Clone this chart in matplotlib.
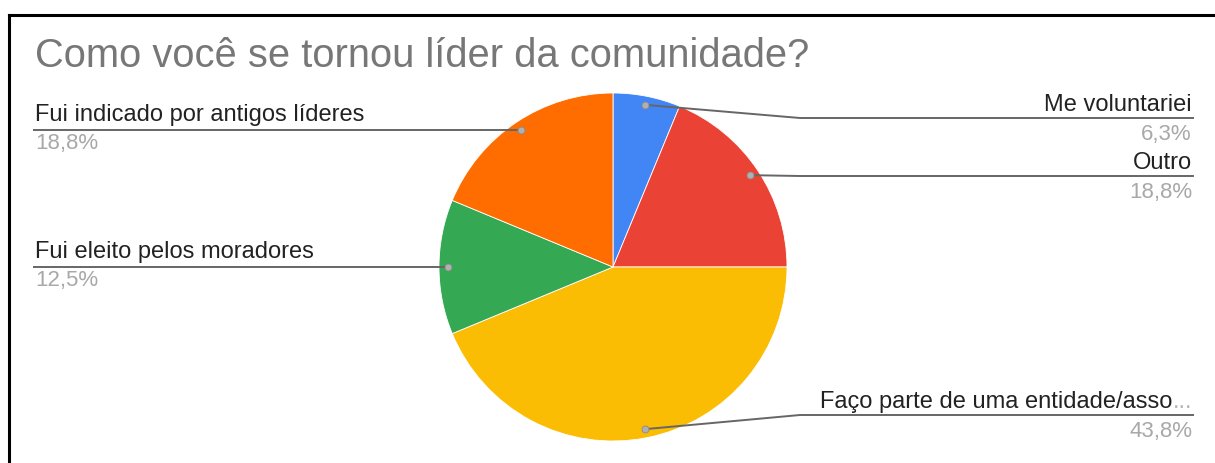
import numpy as np
import matplotlib
matplotlib.use("Agg")
import matplotlib.pyplot as plt

plt.rcParams['font.family'] = ['Liberation Sans', 'DejaVu Sans']

# respostas (16 lideres)
labels = ["Me voluntariei", "Outro", "Faço parte de uma entidade/asso",
          "Fui eleito pelos moradores", "Fui indicado por antigos líderes"]
truncated = [False, False, True, False, False]
shares = [6.25, 18.75, 43.75, 12.5, 18.75]
pct_text = ["6,3%", "18,8%", "43,8%", "12,5%", "18,8%"]
colors = ["#4285F4", "#EA4335", "#FBBC04", "#34A853", "#FF6D01"]
side = ["right", "right", "right", "left", "left"]
# altura da linha-guia dos rotulos da direita (px a partir do topo)
right_line_y = {0: 118, 1: 176, 2: 415}

W, H = 1215, 463
fig = plt.figure(figsize=(W / 100, H / 100), dpi=100)
ax = fig.add_axes([0, 0, 1, 1])

def Y(y):
    return H - y

cx, cy, R = 613, 267, 174

wedges, _ = ax.pie(shares, colors=colors, startangle=90, counterclock=False,
                   center=(cx, Y(cy)), radius=R, frame=True,
                   wedgeprops=dict(edgecolor='white', linewidth=0.6))
ax.set_xlim(0, W)
ax.set_ylim(0, H)
ax.set_aspect('auto')
ax.axis('off')

renderer = fig.canvas.get_renderer()
line_c = '#666666'
for i, w in enumerate(wedges):
    mid = np.deg2rad((w.theta1 + w.theta2) / 2)
    dx = cx + 0.95 * R * np.cos(mid)
    dy = Y(cy) + 0.95 * R * np.sin(mid)
    if side[i] == 'left':
        ly = dy
        ax.plot([33, dx], [ly, ly], color=line_c, lw=1.4, zorder=3, solid_capstyle='butt')
        ax.text(35, ly + 9, labels[i], fontsize=17, color='#222222', ha='left', va='baseline')
        ax.text(35, ly - 19, pct_text[i], fontsize=16, color='#a8a8a8', ha='left', va='baseline')
    else:
        ly = Y(right_line_y[i])
        ax.plot([dx, 800, 1193], [dy, ly, ly], color=line_c, lw=1.4, zorder=3)
        xr = 1192
        if truncated[i]:
            # reticencias mais claras no fim do rotulo cortado
            dots = ax.text(xr, ly + 7, "...", fontsize=17, color='#b5b5b5',
                           ha='right', va='baseline')
            xr -= dots.get_window_extent(renderer).width
        ax.text(xr, ly + 7, labels[i], fontsize=17, color='#222222', ha='right', va='baseline')
        ax.text(1192, ly - 22, pct_text[i], fontsize=16, color='#a8a8a8', ha='right', va='baseline')
    ax.plot(dx, dy, 'o', ms=5, color='#b0b0b0', mec='#8a8a8a', mew=0.6, zorder=4)

ax.text(35, Y(67), "Como você se tornou líder da comunidade?", fontsize=28.7,
        color='#777777', ha='left', va='baseline')

# moldura
ax.plot([9, 9], [0, Y(15)], color='black', lw=2.2, solid_capstyle='projecting')
ax.plot([9, W], [Y(15), Y(15)], color='black', lw=2.2, solid_capstyle='projecting')

fig.savefig("out.png", dpi=100, facecolor='white')
